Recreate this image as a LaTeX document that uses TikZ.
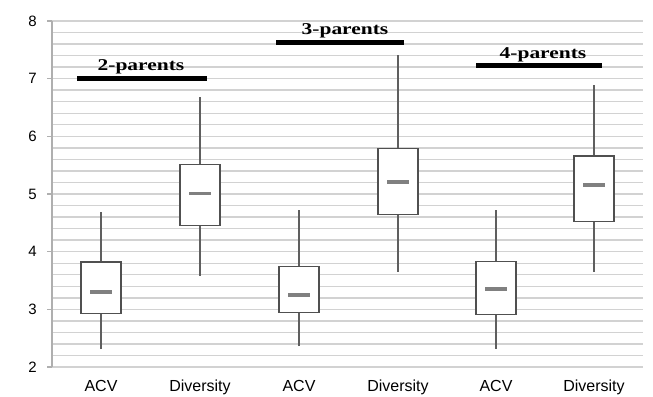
\documentclass[tikz,border=0pt]{standalone}
\usepackage{fontspec}
\setmainfont{Liberation Serif}
\setsansfont{Liberation Sans}
\definecolor{gridgray}{RGB}{210,210,210}
\definecolor{axisgray}{RGB}{175,175,175}
\definecolor{boxgray}{RGB}{80,80,80}
\definecolor{whiskgray}{RGB}{95,95,95}
\definecolor{medgray}{RGB}{128,128,128}
\newcommand\myboxplot[7]{%
  \draw[whisk] (#2,#3) -- (#2,#4);
  \draw[whisk] (#2,#6) -- (#2,#7);
  \draw[boxst] ({#2-20},#4) rectangle ({#2+20},#6);
  \coordinate (#1) at (#2,#5);
  \draw[medst] ({#2-11},#5) -- ({#2+11},#5);
}
\begin{document}
\begin{tikzpicture}[x=1pt,y=57.67pt,
  grid/.style={draw=gridgray,line width=1.4pt},
  axisst/.style={draw=axisgray,line width=1.3pt},
  boxst/.style={draw=boxgray,fill=white,line width=1.2pt},
  whisk/.style={draw=whiskgray,line width=1.25pt},
  medst/.style={draw=medgray,line width=3.8pt},
  grpbar/.style={draw=black,line width=4.6pt},
  ticklab/.style={font=\sffamily\fontsize{15}{15}\selectfont,anchor=east,inner sep=0pt},
  catlab/.style={font=\sffamily\fontsize{16}{16}\selectfont,anchor=base,inner sep=0pt},
  grplab/.style={font=\bfseries\fontsize{16.5}{16}\selectfont,anchor=base,inner sep=0pt,xscale=1.3}]
\useasboundingbox (0,1.497) rectangle (653,8.364);
\foreach \v in {0,...,30} \draw[grid] (52,{2+\v*0.2}) -- (643,{2+\v*0.2});
\draw[axisst] (52,2) -- (52,8);
\foreach \v in {2,...,8} {
  \draw[axisst] (47,\v) -- (52,\v);
  \node[ticklab] (t\v) at (37,\v) {\v};
}
\myboxplot{b1}{101}{2.31}{2.93}{3.30}{3.82}{4.68}
\myboxplot{b2}{200}{3.58}{4.45}{5.01}{5.51}{6.69}
\myboxplot{b3}{299}{2.36}{2.94}{3.25}{3.74}{4.72}
\myboxplot{b4}{398}{3.65}{4.64}{5.21}{5.79}{7.41}
\myboxplot{b5}{496}{2.32}{2.91}{3.35}{3.83}{4.73}
\myboxplot{b6}{594}{3.65}{4.53}{5.16}{5.66}{6.89}
\node[catlab] (c1) at (101,1.579) {ACV};
\node[catlab] (c2) at (200,1.579) {Diversity};
\node[catlab] (c3) at (299,1.579) {ACV};
\node[catlab] (c4) at (398,1.579) {Diversity};
\node[catlab] (c5) at (496,1.579) {ACV};
\node[catlab] (c6) at (594,1.579) {Diversity};
\draw[grpbar] (77,7.0) -- (207,7.0);
\draw[grpbar] (276,7.624) -- (404,7.624);
\draw[grpbar] (476,7.225) -- (602,7.225);
\node[grplab] (g1) at (141,7.15) {2-parents};
\node[grplab] (g2) at (345,7.769) {3-parents};
\node[grplab] (g3) at (543,7.353) {4-parents};
\end{tikzpicture}
\end{document}
